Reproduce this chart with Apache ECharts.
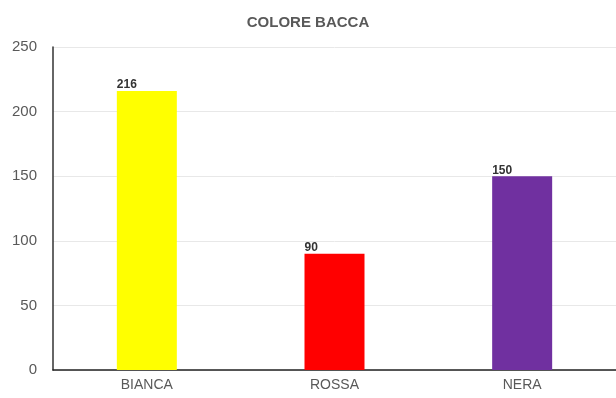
<!DOCTYPE html>
<html>
<head>
<meta charset="utf-8">
<style>
  html, body { margin: 0; padding: 0; background: #fff; }
  #chart { width: 616px; height: 398px; }
</style>
<script src="https://cdn.jsdelivr.net/npm/echarts@6/dist/echarts.min.js"></script>
</head>
<body>
<div id="chart"></div>
<script>
const categories = ['BIANCA', 'ROSSA', 'NERA'];
const counts = [216, 90, 150];
const barColors = ['#FFFF00', '#FF0000', '#7030A0'];
const yTicks = { min: 0, max: 250, interval: 50 };

const chart = echarts.init(document.getElementById('chart'));
chart.setOption({
  animation: false,
  title: {
    text: 'COLORE BACCA',
    left: 'center',
    top: 10,
    textStyle: { fontFamily: 'Liberation Sans Narrow, Liberation Sans, Arial, sans-serif', fontSize: 15, fontWeight: 'bold', color: '#595959' }
  },
  grid: { left: 53, right: 0, top: 47, bottom: 28 },
  xAxis: {
    type: 'category',
    data: categories,
    axisLine: { lineStyle: { color: '#222', width: 1.5 } },
    axisTick: { show: false },
    axisLabel: { color: '#595959', fontSize: 14, fontFamily: 'Liberation Sans Narrow, Liberation Sans, Arial, sans-serif', margin: 8 }
  },
  yAxis: {
    type: 'value',
    min: yTicks.min,
    max: yTicks.max,
    interval: yTicks.interval,
    axisLine: { show: true, lineStyle: { color: '#333', width: 1.5 } },
    axisTick: { show: false },
    splitLine: { lineStyle: { color: '#e8e8e8' } },
    axisLabel: { color: '#595959', fontSize: 15, fontFamily: 'Liberation Sans, Arial, sans-serif', margin: 16 }
  },
  series: [{
    type: 'bar',
    data: counts.map((v, i) => ({ value: v, itemStyle: { color: barColors[i] } })),
    barWidth: 60,
    label: {
      show: true,
      position: [0, 0],
      align: 'left',
      verticalAlign: 'bottom',
      color: '#333',
      fontSize: 12,
      fontWeight: 600,
      fontFamily: 'Liberation Sans, Arial, sans-serif'
    }
  }]
});
</script>
</body>
</html>
